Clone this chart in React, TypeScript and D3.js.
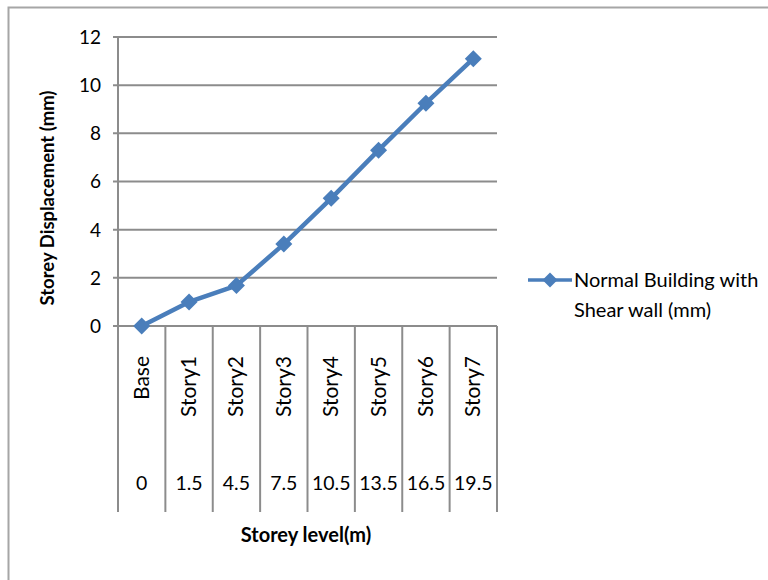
import React from "react";
import * as d3 from "d3";

const categories = ["Base", "Story1", "Story2", "Story3", "Story4", "Story5", "Story6", "Story7"];
const levels = ["0", "1.5", "4.5", "7.5", "10.5", "13.5", "16.5", "19.5"];
const displacement = [0, 1.0, 1.68, 3.4, 5.3, 7.3, 9.25, 11.1];
const yTicks = [0, 2, 4, 6, 8, 10, 12];
const seriesName = ["Normal Building with", "Shear wall (mm)"];

const W = 768, H = 580;
const left = 118, right = 497, top = 37, bottom = 326;
const FONT = "Lato, 'Open Sans', sans-serif";
const BLUE = "#4a7ebb";
const GRID = "#8c8c8c";

export default function App() {
  const x = d3.scaleBand<string>().domain(categories).range([left, right]).paddingInner(0).paddingOuter(0);
  const y = d3.scaleLinear().domain([0, 12]).range([bottom, top]);
  const line = d3.line<number>()
    .x((_, i) => (x(categories[i]) as number) + x.bandwidth() / 2)
    .y((d) => y(d));
  const diamond = (cx: number, cy: number, r: number) =>
    `M${cx},${cy - r}L${cx + r},${cy}L${cx},${cy + r}L${cx - r},${cy}Z`;
  const sepX = [...categories.map((c) => x(c) as number), right];

  return (
    <svg width={W} height={H} style={{ position: "absolute", left: 0, top: 0, background: "#fff" }}>
      <rect x={8.5} y={7.5} width={W + 20} height={H + 20} fill="none" stroke="#a6a6a6" strokeWidth={2} />
      {yTicks.map((t) => (
        <line key={t} x1={left - 5} x2={right} y1={y(t)} y2={y(t)} stroke={GRID} strokeWidth={2} />
      ))}
      <line x1={left} x2={left} y1={top} y2={512} stroke={GRID} strokeWidth={2} />
      {sepX.slice(1).map((sx, i) => (
        <line key={i} x1={sx} x2={sx} y1={bottom} y2={512} stroke={GRID} strokeWidth={2} />
      ))}
      {yTicks.map((t) => (
        <text key={t} x={101} y={y(t)} dy="0.36em" textAnchor="end" fontFamily={FONT} fontSize={19} fill="#000">
          {t}
        </text>
      ))}
      <text transform={`translate(54,198) rotate(-90)`} textAnchor="middle"
        fontFamily={FONT} fontWeight="bold" fontSize={18.5} fill="#000">
        Storey Displacement (mm)
      </text>
      {categories.map((c) => {
        const cx = (x(c) as number) + x.bandwidth() / 2;
        return (
          <text key={c} transform={`translate(${cx + 7},356) rotate(-90)`} textAnchor="end"
            fontFamily={FONT} fontSize={21} fill="#000">
            {c}
          </text>
        );
      })}
      {levels.map((l, i) => {
        const cx = (x(categories[i]) as number) + x.bandwidth() / 2;
        return (
          <text key={l} x={cx} y={483} dy="0.36em" textAnchor="middle" fontFamily={FONT} fontSize={19.5} fill="#000">
            {l}
          </text>
        );
      })}
      <text x={306} y={535} dy="0.36em" textAnchor="middle" fontFamily={FONT} fontWeight="bold" fontSize={20} fill="#000">
        Storey level(m)
      </text>
      <path d={line(displacement) || ""} fill="none" stroke={BLUE} strokeWidth={4.5} strokeLinejoin="round" />
      {displacement.map((d, i) => {
        const cx = (x(categories[i]) as number) + x.bandwidth() / 2;
        return <path key={i} d={diamond(cx, y(d), 8.5)} fill={BLUE} />;
      })}
      <line x1={528} x2={572} y1={280} y2={280} stroke={BLUE} strokeWidth={3.5} />
      <path d={diamond(550, 280, 7.5)} fill={BLUE} />
      <text x={574} y={280} dy="0.36em" fontFamily={FONT} fontSize={20} fill="#000">{seriesName[0]}</text>
      <text x={574} y={310} dy="0.36em" fontFamily={FONT} fontSize={20} fill="#000">{seriesName[1]}</text>
    </svg>
  );
}
